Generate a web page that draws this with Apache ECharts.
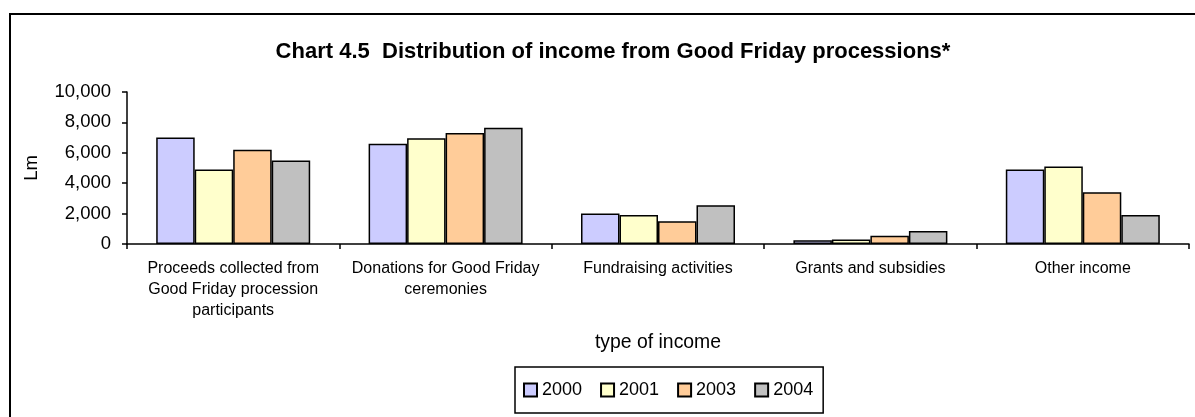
<!DOCTYPE html>
<html>
<head>
<meta charset="utf-8">
<script src="https://cdn.jsdelivr.net/npm/echarts@6/dist/echarts.min.js"></script>
<style>
  html, body { margin: 0; padding: 0; background: #fff; }
  #chart { width: 1195px; height: 417px; }
</style>
</head>
<body>
<div id="chart"></div>
<script>
  // income types
  var categories = [
    'Proceeds collected from\nGood Friday procession\nparticipants',
    'Donations for Good Friday\nceremonies',
    'Fundraising activities',
    'Grants and subsidies',
    'Other income'
  ];
  var years = ['2000', '2001', '2003', '2004'];
  var v2000 = [7000, 6600, 2000, 250, 4900];
  var v2001 = [4900, 6950, 1900, 300, 5100];
  var v2003 = [6200, 7300, 1500, 550, 3400];
  var v2004 = [5500, 7650, 2550, 850, 1900];
  var yTicks = [0, 2000, 4000, 6000, 8000, 10000];
  var colors = ['#CCCCFF', '#FFFFCC', '#FFCC99', '#C0C0C0'];

  var font = 'Arial, "Liberation Sans", sans-serif';
  var allValues = [v2000, v2001, v2003, v2004];

  var series = [];
  for (var i = 0; i < years.length; i++) {
    series.push({
      name: years[i],
      type: 'bar',
      data: allValues[i],
      barGap: '0%',
      barCategoryGap: '27.5%',
      itemStyle: { color: colors[i], borderColor: '#000', borderWidth: 1.5 }
    });
  }

  var myChart = echarts.init(document.getElementById('chart'));
  myChart.setOption({
    animation: false,
    textStyle: { fontFamily: font, color: '#000' },
    graphic: [{
      type: 'rect',
      shape: { x: 10, y: 14, width: 1200, height: 420 },
      style: { fill: null, stroke: '#000', lineWidth: 2 }
    }],
    title: {
      text: 'Chart 4.5  Distribution of income from Good Friday processions*',
      left: 608,
      textAlign: 'center',
      top: 36,
      textStyle: { fontFamily: font, fontSize: 22, fontWeight: 'bold', color: '#000' }
    },
    legend: {
      data: years,
      orient: 'horizontal',
      left: 515,
      top: 367,
      padding: [14, 10, 14, 8],
      itemWidth: 13,
      itemHeight: 13,
      itemGap: 18,
      icon: 'rect',
      borderColor: '#000',
      borderWidth: 1.5,
      textStyle: { fontFamily: font, fontSize: 18, color: '#000' }
    },
    grid: { left: 127, right: 6, top: 92, bottom: 173, containLabel: false },
    xAxis: {
      type: 'category',
      data: categories,
      name: 'type of income',
      nameLocation: 'middle',
      nameGap: 89,
      nameTextStyle: { fontFamily: font, fontSize: 19.4, color: '#000' },
      axisLine: { lineStyle: { color: '#000', width: 1.5 } },
      axisTick: { show: true, length: 5, lineStyle: { color: '#000', width: 1.5 } },
      axisLabel: { fontFamily: font, fontSize: 16, color: '#000', lineHeight: 21, margin: 14, interval: 0, align: 'center' }
    },
    yAxis: {
      type: 'value',
      min: 0,
      max: yTicks[yTicks.length - 1],
      interval: yTicks[1] - yTicks[0],
      name: 'Lm',
      nameLocation: 'middle',
      nameGap: 86,
      nameRotate: 90,
      nameTextStyle: { fontFamily: font, fontSize: 18.5, color: '#000' },
      splitLine: { show: false },
      axisLine: { show: true, lineStyle: { color: '#000', width: 1.5 } },
      axisTick: { show: true, length: 5, lineStyle: { color: '#000', width: 1.5 } },
      axisLabel: {
        fontFamily: font, fontSize: 18.5, color: '#000', margin: 16,
        formatter: function (v) { return v.toLocaleString('en-US'); }
      }
    },
    series: series
  });
</script>
</body>
</html>
